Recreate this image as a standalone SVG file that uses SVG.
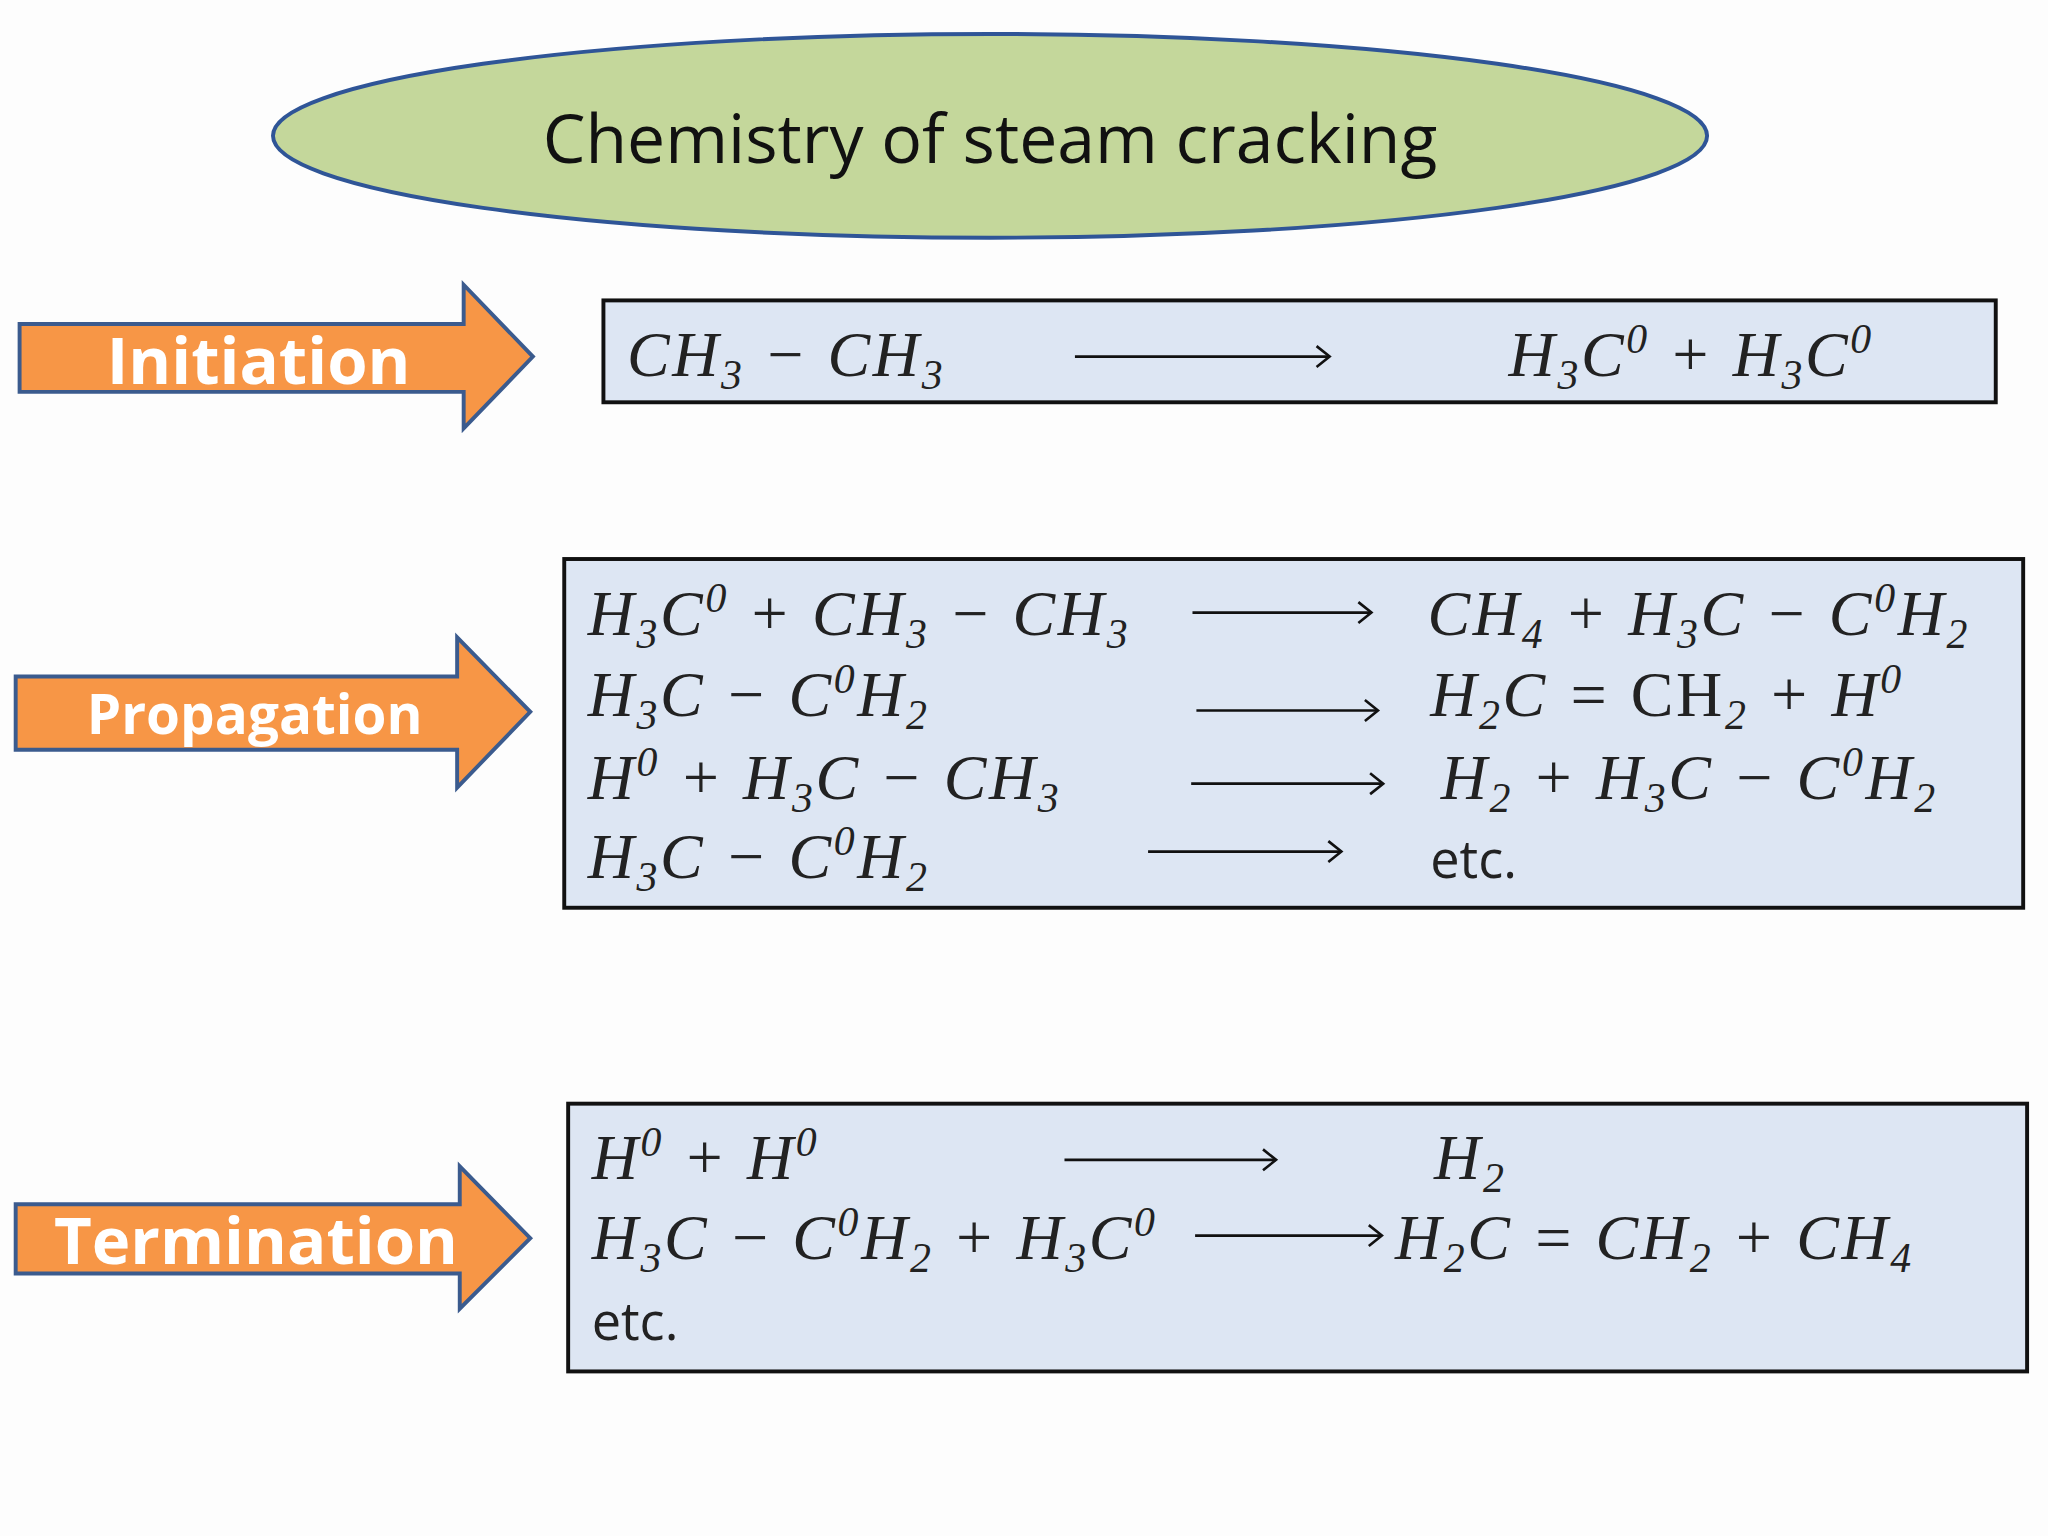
<svg xmlns="http://www.w3.org/2000/svg" width="2048" height="1536" viewBox="0 0 2048 1536">
<style>
.arr{fill:#f79646;stroke:#3b5b8e;stroke-width:3}
.lab{font-family:"Open Sans",sans-serif;font-weight:bold;fill:#fff;text-anchor:middle}
.box{fill:#dde6f3;stroke:#111;stroke-width:3}
.m{font-family:"Liberation Serif",serif;font-style:italic;font-size:49px;letter-spacing:2px;fill:#222}
.u{font-family:"Open Sans",sans-serif;font-size:40px;fill:#222}
.s{baseline-shift:-10px;font-size:32px}
.p{baseline-shift:18px;font-size:32px}
.con line{stroke:#111;stroke-width:2;fill:none}
.con path{stroke:#111;stroke-width:2;fill:none}
</style>
<rect width="2048" height="1536" fill="#fdfdfd"/>
<g transform="scale(1.30612)">
<g id="title">
<ellipse cx="758" cy="104" rx="549" ry="78" fill="#c4d79b" stroke="#2f5597" stroke-width="3"/>
<text x="758" y="125" text-anchor="middle" font-family="'Open Sans',sans-serif" font-size="52" fill="#111">Chemistry of steam cracking</text>
</g>
<g id="initiation">
<path class="arr" d="M15 248H355V218L408 273L355 328V300H15Z"/>
<text class="lab" x="198" y="294" font-size="50">Initiation</text>
</g>
<g id="propagation">
<path class="arr" d="M12 518H350V488L406 545L350 603V574H12Z"/>
<text class="lab" x="195" y="562" font-size="42">Propagation</text>
</g>
<g id="termination">
<path class="arr" d="M12 922H352V893L406 948L352 1002V975H12Z"/>
<text class="lab" x="196" y="968" font-size="50">Termination</text>
</g>
<g id="init-box">
<rect class="box" x="462" y="230" width="1066" height="78"/>
<text class="m" x="480" y="288">CH<tspan class="s">3</tspan> − CH<tspan class="s">3</tspan></text>
<text class="m" x="1155" y="288">H<tspan class="s">3</tspan>C<tspan class="p">0</tspan> + H<tspan class="s">3</tspan>C<tspan class="p">0</tspan></text>
</g>
<g id="prop-box">
<rect class="box" x="432" y="428" width="1117" height="267"/>
<text class="m" x="450" y="486">H<tspan class="s">3</tspan>C<tspan class="p">0</tspan> + CH<tspan class="s">3</tspan> − CH<tspan class="s">3</tspan></text>
<text class="m" x="1093" y="486">CH<tspan class="s">4</tspan> + H<tspan class="s">3</tspan>C − C<tspan class="p">0</tspan>H<tspan class="s">2</tspan></text>
<text class="m" x="450" y="548">H<tspan class="s">3</tspan>C − C<tspan class="p">0</tspan>H<tspan class="s">2</tspan></text>
<text class="m" x="1095" y="548">H<tspan class="s">2</tspan>C = <tspan font-style="normal">CH</tspan><tspan class="s">2</tspan> + H<tspan class="p">0</tspan></text>
<text class="m" x="450" y="612">H<tspan class="p">0</tspan> + H<tspan class="s">3</tspan>C − CH<tspan class="s">3</tspan></text>
<text class="m" x="1103" y="612">H<tspan class="s">2</tspan> + H<tspan class="s">3</tspan>C − C<tspan class="p">0</tspan>H<tspan class="s">2</tspan></text>
<text class="m" x="450" y="672">H<tspan class="s">3</tspan>C − C<tspan class="p">0</tspan>H<tspan class="s">2</tspan></text>
<text class="u" x="1095" y="672">etc.</text>
</g>
<g id="term-box">
<rect class="box" x="435" y="845" width="1117" height="205"/>
<text class="m" x="453" y="903">H<tspan class="p">0</tspan> + H<tspan class="p">0</tspan></text>
<text class="m" x="1098" y="903">H<tspan class="s">2</tspan></text>
<text class="m" x="453" y="964">H<tspan class="s">3</tspan>C − C<tspan class="p">0</tspan>H<tspan class="s">2</tspan> + H<tspan class="s">3</tspan>C<tspan class="p">0</tspan></text>
<text class="m" x="1068" y="964">H<tspan class="s">2</tspan>C = CH<tspan class="s">2</tspan> + CH<tspan class="s">4</tspan></text>
<text class="u" x="453" y="1026">etc.</text>
</g>
<g class="con" id="connectors">
<line x1="823" y1="273" x2="1018" y2="273"/><path d="M1008 265L1018 273L1008 281"/>
<line x1="913" y1="469" x2="1050" y2="469"/><path d="M1040 461L1050 469L1040 477"/>
<line x1="916" y1="544" x2="1055" y2="544"/><path d="M1045 536L1055 544L1045 552"/>
<line x1="912" y1="600" x2="1059" y2="600"/><path d="M1049 592L1059 600L1049 608"/>
<line x1="879" y1="652" x2="1027" y2="652"/><path d="M1017 644L1027 652L1017 660"/>
<line x1="815" y1="888" x2="977" y2="888"/><path d="M967 880L977 888L967 896"/>
<line x1="915" y1="946" x2="1058" y2="946"/><path d="M1048 938L1058 946L1048 954"/>
</g>
</g>
</svg>
